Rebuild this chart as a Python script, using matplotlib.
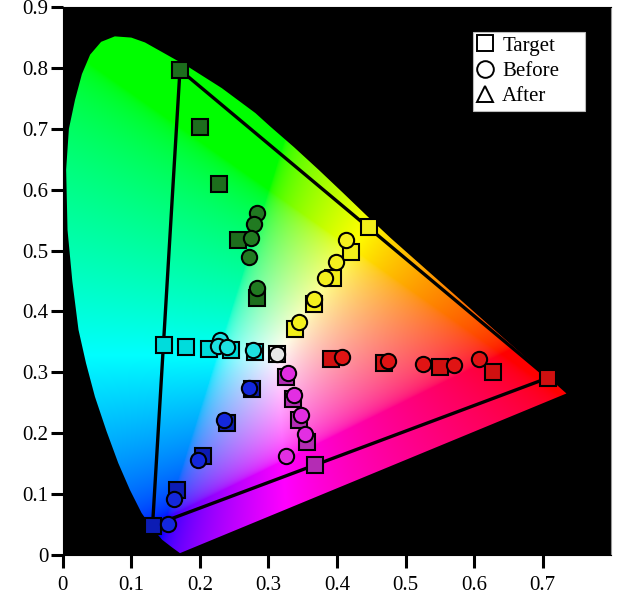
import numpy as np
import matplotlib
matplotlib.use('Agg')
import matplotlib.pyplot as plt
from matplotlib.patches import Polygon
from matplotlib.lines import Line2D

plt.rcParams['font.family'] = ['Liberation Serif', 'DejaVu Serif']

# outline of the chromaticity region as drawn (bottom tip -> left -> top -> red end)
locus_x = [0.171, 0.160, 0.145, 0.130, 0.115, 0.098, 0.081, 0.064, 0.047, 0.034,
           0.023, 0.014, 0.007, 0.005, 0.009, 0.018, 0.028, 0.040, 0.056, 0.076,
           0.100, 0.120, 0.150, 0.183, 0.232, 0.281, 0.3016, 0.3373, 0.3731, 0.4087,
           0.4441, 0.4788, 0.5125, 0.5448, 0.5752, 0.6029, 0.6270, 0.6482, 0.6658, 0.6801,
           0.6915, 0.7006, 0.7079, 0.7140, 0.7190, 0.7230, 0.7260, 0.7283, 0.7300, 0.7311,
           0.7320, 0.7334, 0.7344, 0.7347]
locus_y = [0.003, 0.012, 0.025, 0.045, 0.069, 0.107, 0.151, 0.203, 0.260, 0.315,
           0.370, 0.450, 0.534, 0.633, 0.700, 0.748, 0.790, 0.822, 0.843, 0.852,
           0.850, 0.842, 0.823, 0.802, 0.767, 0.726, 0.705, 0.670, 0.633, 0.595,
           0.5567, 0.5202, 0.4866, 0.4544, 0.4242, 0.3965, 0.3725, 0.3514, 0.3340, 0.3197,
           0.3083, 0.2993, 0.2920, 0.2859, 0.2809, 0.2770, 0.2740, 0.2717, 0.2700, 0.2689,
           0.2680, 0.2666, 0.2656, 0.2653]

# measured points: squares = Target, circles = Before
green_target_x = [0.171, 0.200, 0.228, 0.255, 0.284]
green_target_y = [0.797, 0.703, 0.609, 0.517, 0.422]
green_before_x = [0.284, 0.279, 0.274, 0.272, 0.283]
green_before_y = [0.561, 0.544, 0.520, 0.490, 0.438]

cyan_target_x = [0.147, 0.180, 0.213, 0.246, 0.280]
cyan_target_y = [0.345, 0.342, 0.338, 0.336, 0.333]
cyan_before_x = [0.229, 0.226, 0.240, 0.277]
cyan_before_y = [0.353, 0.344, 0.341, 0.337]

white_target_x = [0.312]
white_target_y = [0.330]
white_before_x = [0.312]
white_before_y = [0.330]

blue_target_x = [0.131, 0.167, 0.204, 0.240, 0.276]
blue_target_y = [0.048, 0.106, 0.162, 0.216, 0.272]
blue_before_x = [0.153, 0.162, 0.197, 0.235, 0.271]
blue_before_y = [0.051, 0.092, 0.156, 0.222, 0.275]

magenta_target_x = [0.368, 0.356, 0.345, 0.336, 0.325]
magenta_target_y = [0.148, 0.185, 0.222, 0.256, 0.293]
magenta_before_x = [0.326, 0.353, 0.348, 0.338, 0.328]
magenta_before_y = [0.162, 0.198, 0.230, 0.262, 0.299]

yellow_target_x = [0.447, 0.420, 0.394, 0.366, 0.339]
yellow_target_y = [0.538, 0.497, 0.455, 0.412, 0.371]
yellow_before_x = [0.413, 0.398, 0.382, 0.366, 0.344]
yellow_before_y = [0.518, 0.482, 0.455, 0.421, 0.383]

red_target_x = [0.708, 0.628, 0.550, 0.469, 0.392]
red_target_y = [0.291, 0.300, 0.308, 0.316, 0.322]
red_before_x = [0.607, 0.570, 0.526, 0.474, 0.407]
red_before_y = [0.322, 0.312, 0.314, 0.318, 0.326]

legend_labels = ['Target', 'Before', 'After']

fig = plt.figure(figsize=(6.4, 6.06), dpi=100)
ax = fig.add_axes([0.098, 0.0842, 0.857, 0.904])
ax.set_facecolor('black')
ax.set_xlim(0, 0.8)
ax.set_ylim(0, 0.9)

# chromaticity colour fill
n = 500
gx, gy = np.meshgrid(np.linspace(0, 0.8, n), np.linspace(0, 0.9, n))
gy_safe = np.where(gy < 1e-4, 1e-4, gy)
X = gx / gy_safe
Y = np.ones_like(gx)
Z = (1 - gx - gy) / gy_safe
R = 3.2406 * X - 1.5372 * Y - 0.4986 * Z
G = -0.9689 * X + 1.8758 * Y + 0.0415 * Z
B = 0.0557 * X - 0.2040 * Y + 1.0570 * Z
rgb = np.clip(np.dstack([R, G, B]), 0, None)
rgb = rgb / np.maximum(rgb.max(axis=2, keepdims=True), 1e-9)
rgb = np.where(rgb <= 0.0031308, 12.92 * rgb, 1.055 * rgb ** (1 / 2.4) - 0.055)
rgb = np.clip(rgb, 0, 1)
img = ax.imshow(rgb, extent=[0, 0.8, 0, 0.9], origin='lower', aspect='auto',
                interpolation='bilinear', zorder=1)
locus = Polygon(np.column_stack([locus_x, locus_y]), closed=True,
                transform=ax.transData, facecolor='none', edgecolor='none')
ax.add_patch(locus)
img.set_clip_path(locus)

# gamut triangle
tri_x = [green_target_x[0], red_target_x[0], blue_target_x[0], green_target_x[0]]
tri_y = [green_target_y[0], red_target_y[0], blue_target_y[0], green_target_y[0]]
ax.plot(tri_x, tri_y, color='black', lw=2.4, zorder=2, solid_joinstyle='miter')

ms = 11
groups = [
    (green_target_x, green_target_y, green_before_x, green_before_y, '#1d6e1d', '#217a21'),
    (cyan_target_x, cyan_target_y, cyan_before_x, cyan_before_y, '#00dcdc', '#1ee2e2'),
    (white_target_x, white_target_y, white_before_x, white_before_y, '#e4e4e4', '#e8e8e8'),
    (blue_target_x, blue_target_y, blue_before_x, blue_before_y, '#0c1cb4', '#1428dc'),
    (magenta_target_x, magenta_target_y, magenta_before_x, magenta_before_y, '#b42cb4', '#e22ee2'),
    (yellow_target_x, yellow_target_y, yellow_before_x, yellow_before_y, '#f2ee1a', '#f4f01e'),
    (red_target_x, red_target_y, red_before_x, red_before_y, '#d01010', '#e01414'),
]
for tx, ty, bx, by, cs, cc in groups:
    ax.plot(tx, ty, 's', ms=ms, mfc=cs, mec='black', mew=1.5, ls='none', zorder=3)
for tx, ty, bx, by, cs, cc in groups:
    ax.plot(bx, by, 'o', ms=ms, mfc=cc, mec='black', mew=1.5, ls='none', zorder=4)

handles = [Line2D([], [], marker=m, ls='none', ms=12, mfc='none', mec='black', mew=1.4)
           for m in ['s', 'o', '^']]
leg = ax.legend(handles, legend_labels, loc='upper left', mode='expand',
                bbox_to_anchor=(0.748, 0.807, 0.204, 0.148),
                borderaxespad=0, fancybox=False, framealpha=1, edgecolor='#bbbbbb',
                fontsize=15, handlelength=0.8, handletextpad=0.4, labelspacing=0.28,
                borderpad=0.2)
leg.get_frame().set_linewidth(0.8)

ax.set_xticks([0, 0.1, 0.2, 0.3, 0.4, 0.5, 0.6, 0.7])
ax.set_xticklabels(['0', '0.1', '0.2', '0.3', '0.4', '0.5', '0.6', '0.7'])
ax.set_yticks([0, 0.1, 0.2, 0.3, 0.4, 0.5, 0.6, 0.7, 0.8, 0.9])
ax.set_yticklabels(['0', '0.1', '0.2', '0.3', '0.4', '0.5', '0.6', '0.7', '0.8', '0.9'])
ax.tick_params(direction='out', length=9, width=2.2, colors='black', labelsize=15)
ax.tick_params(axis='x', pad=6)
ax.tick_params(axis='y', pad=1.5)
for side in ['top', 'left', 'bottom']:
    ax.spines[side].set_color('black')
ax.spines['right'].set_color('#999999')

fig.savefig('out.png', dpi=100, facecolor='white')
